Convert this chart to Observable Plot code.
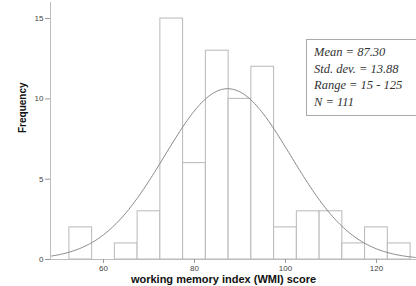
<!DOCTYPE html>
<html>
<head>
<meta charset="utf-8">
<script src="https://cdn.jsdelivr.net/npm/d3@7"></script>
<script src="https://cdn.jsdelivr.net/npm/@observablehq/plot@0.6"></script>
<style>
  html, body { margin: 0; padding: 0; background: #fff; }
  #chart { width: 416px; height: 286px; overflow: hidden; }
</style>
</head>
<body>
<div id="chart"></div>
<script>
// Histogram bins (lower/upper edges) and frequencies
const binLower = [52.5, 57.5, 62.5, 67.5, 72.5, 77.5, 82.5, 87.5, 92.5, 97.5, 102.5, 107.5, 112.5, 117.5, 122.5];
const binUpper = [57.5, 62.5, 67.5, 72.5, 77.5, 82.5, 87.5, 92.5, 97.5, 102.5, 107.5, 112.5, 117.5, 122.5, 127.5];
const counts   = [2, 0, 1, 3, 15, 6, 13, 10, 12, 2, 3, 3, 1, 2, 1];

const xTicks = [60, 80, 100, 120];
const yTicks = [0, 5, 10, 15];

const statsLines = ["Mean = 87.30", "Std. dev. = 13.88", "Range = 15 - 125", "N = 111"];
const mean = 87.30;
const sd = 13.88;

const bins = binLower.map((lo, i) => ({lo, hi: binUpper[i], n: counts[i]}));
const total = d3.sum(counts);
const binWidth = 5;
const xDomain = [48.35, 128.8];
const curve = d3.range(xDomain[0], xDomain[1] + 0.01, 0.4).map(x => ({
  x,
  y: total * binWidth * Math.exp(-0.5 * ((x - mean) / sd) ** 2) / (sd * Math.sqrt(2 * Math.PI))
}));

const chart = Plot.plot({
  width: 416,
  height: 286,
  marginLeft: 50,
  marginRight: 0,
  marginTop: 2,
  marginBottom: 27,
  style: {fontFamily: "'Liberation Sans', Arial, sans-serif", background: "#fff"},
  x: {domain: xDomain},
  y: {domain: [0, 16]},
  marks: [
    Plot.rect(bins, {x1: "lo", x2: "hi", y1: 0, y2: "n", fill: "#fff", stroke: "#b8b8b8", strokeWidth: 1}),
    Plot.line(curve, {x: "x", y: "y", stroke: "#8a8a8a", strokeWidth: 1, curve: "basis"}),
    Plot.ruleX([xDomain[0]], {stroke: "#bdbdbd"}),
    Plot.ruleY([0], {stroke: "#bdbdbd"}),
    Plot.axisX(xTicks, {tickSize: 4, tickPadding: 2, stroke: "#999", fontSize: 8, fill: "#444", label: null}),
    Plot.axisY(yTicks, {tickSize: 5, tickPadding: 2, stroke: "#999", fontSize: 8, fill: "#444", label: null}),
    Plot.text(["working memory index (WMI) score"], {frameAnchor: "bottom", dy: 23, dx: -10, fontWeight: "bold", fontSize: 11, fill: "#111", letterSpacing: 0.75}),
    Plot.text(["Frequency"], {frameAnchor: "left", dx: -28, dy: 2, rotate: -90, fontWeight: "bold", fontSize: 10, fill: "#111"})
  ]
});

document.getElementById("chart").appendChild(chart);

// Statistics box annotation
const svg = d3.select(chart);
const g = svg.append("g");
g.append("rect")
  .attr("x", 306.5).attr("y", 39.5).attr("width", 120).attr("height", 76)
  .attr("fill", "#fff").attr("stroke", "#aaa").attr("stroke-width", 1);
g.selectAll("text").data(statsLines).join("text")
  .attr("x", 314).attr("y", (d, i) => 56 + i * 16.5)
  .attr("text-anchor", "start")
  .attr("font-family", "'Liberation Serif', 'Times New Roman', serif")
  .attr("font-style", "italic")
  .attr("font-size", 12.5)
  .attr("fill", "#333")
  .text(d => d);
</script>
</body>
</html>
